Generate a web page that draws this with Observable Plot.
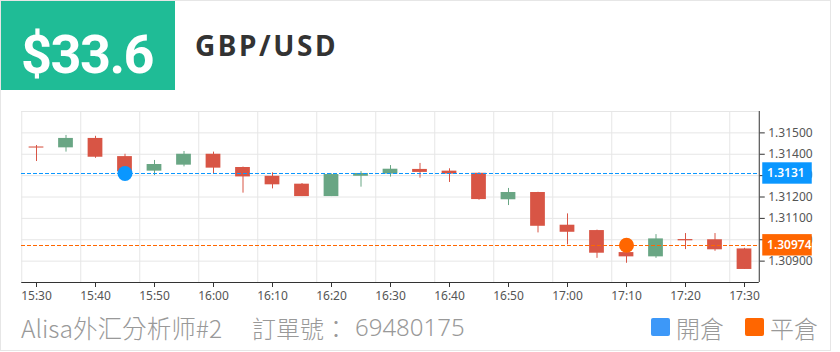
<!DOCTYPE html>
<html>
<head>
<meta charset="utf-8">
<script src="https://cdn.jsdelivr.net/npm/d3@7"></script>
<script src="https://cdn.jsdelivr.net/npm/@observablehq/plot@0.6"></script>
<style>
  html, body { margin: 0; padding: 0; background: #fff; }
  body { width: 840px; height: 352px; position: relative; overflow: hidden; font-family: "Noto Sans", sans-serif; }
  #card { position: absolute; left: 0; top: 0; width: 829px; height: 349px; border: 1px solid #e6e6e6; }
  #badge { position: absolute; left: 1px; top: 1px; width: 174px; height: 89px; background: #1fbc96; }
  #price { position: absolute; left: 21px; top: 19px; color: #fff; font-family: Roboto, "Noto Sans", sans-serif; font-weight: 700; font-size: 54px; letter-spacing: -1.5px; line-height: 72px; }
  #pair { position: absolute; left: 195px; top: 23px; color: #333; font-family: "Noto Sans", sans-serif; font-weight: 700; font-size: 28px; letter-spacing: 2.6px; line-height: 44px; }
  #chart { position: absolute; left: 0; top: 100px; }
  .foot { position: absolute; top: 313px; color: #999; font-family: "Noto Sans CJK TC", "Noto Sans", sans-serif; font-weight: 300; font-size: 24px; line-height: 30px; white-space: nowrap; }
  .sw { position: absolute; top: 318px; width: 19px; height: 18px; border-radius: 2px; }
</style>
</head>
<body>
<div id="card"></div>
<div id="badge"></div>
<div id="price"></div>
<div id="pair"></div>
<div id="chart"></div>
<div class="foot" id="f1" style="left:21px;font-size:24.6px;top:312px"></div>
<div class="foot" id="f2" style="left:252px"></div>
<div class="foot" id="f3" style="left:355px;font-family:'Noto Sans',sans-serif;top:312px"></div>
<div class="sw" style="left:651px;background:#3d98f8"></div>
<div class="foot" id="l1" style="left:676px"></div>
<div class="sw" style="left:745px;background:#ff6600"></div>
<div class="foot" id="l2" style="left:770px"></div>
<script>
// ---- data ----
const priceText = "$33.6";
const pairText = "GBP/USD";
const analystText = "Alisa外汇分析师#2";
const orderLabel = "訂單號：";
const orderNo = "69480175";
const legendLabels = ["開倉", "平倉"];

const times = ["15:30","15:35","15:40","15:45","15:50","15:55","16:00","16:05","16:10","16:15","16:20","16:25","16:30","16:35","16:40","16:45","16:50","16:55","17:00","17:05","17:10","17:15","17:20","17:25","17:30"];
const open  = [1.31434,1.31430,1.31474,1.31389,1.31321,1.31349,1.31400,1.31338,1.31297,1.31260,1.31202,1.31297,1.31307,1.31329,1.31321,1.31311,1.31187,1.31221,1.31068,1.31043,1.30940,1.30920,1.31001,1.31000,1.30957];
const close = [1.31429,1.31474,1.31386,1.31318,1.31352,1.31400,1.31335,1.31294,1.31257,1.31202,1.31305,1.31310,1.31330,1.31315,1.31307,1.31188,1.31221,1.31063,1.31035,1.30937,1.30920,1.31004,1.30995,1.30953,1.30861];
const high  = [1.31441,1.31488,1.31484,1.31400,1.31371,1.31413,1.31410,1.31340,1.31313,1.31263,1.31308,1.31319,1.31347,1.31357,1.31332,1.31313,1.31240,1.31222,1.31121,1.31045,1.30955,1.31024,1.31029,1.31029,1.30960];
const low   = [1.31366,1.31410,1.31381,1.31305,1.31300,1.31341,1.31307,1.31218,1.31238,1.31202,1.31202,1.31246,1.31293,1.31288,1.31268,1.31185,1.31160,1.31032,1.30976,1.30913,1.30890,1.30913,1.30954,1.30946,1.30861];

const yDomain = [1.308, 1.316];
const yGrid = [1.308,1.309,1.310,1.311,1.312,1.313,1.314,1.315,1.316];
const yTicks = [1.309,1.310,1.311,1.312,1.313,1.314,1.315];

const openTime = "15:45", openPrice = 1.3131;
const closeTime = "17:10", closePrice = 1.30974;

// ---- text ----
document.getElementById("price").textContent = priceText;
document.getElementById("pair").textContent = pairText;
document.getElementById("f1").textContent = analystText;
document.getElementById("f2").textContent = orderLabel;
document.getElementById("f3").textContent = orderNo;
document.getElementById("l1").textContent = legendLabels[0];
document.getElementById("l2").textContent = legendLabels[1];

// ---- chart ----
const UP = "#69a684", DOWN = "#d85545";
const BLUE = "#0a97ff", ORANGE = "#ff6600";
const candles = times.map((t, i) => ({i, t, open: open[i], close: close[i], high: high[i], low: low[i]}));
const col = d => d.close >= d.open ? UP : DOWN;
const idx = t => times.indexOf(t);
const tags = [
  {value: openPrice, label: String(openPrice), color: BLUE},
  {value: closePrice, label: String(closePrice), color: ORANGE}
];

const W = 840, H = 210, MR = 81.25;
const chart = Plot.plot({
  width: W, height: H,
  marginTop: 11, marginBottom: 28, marginLeft: 21.25, marginRight: MR,
  style: {fontFamily: "'Noto Sans', sans-serif", fontSize: "12px", color: "#555", background: "transparent", overflow: "visible"},
  x: {domain: [-0.5, times.length - 0.5], label: null},
  y: {domain: yDomain, label: null},
  marks: [
    Plot.ruleY(yGrid, {stroke: "#e6e6e6"}),
    Plot.ruleX(d3.range(0, times.length, 2), {x: i => i - 0.5, stroke: "#e6e6e6"}),
    Plot.ruleX(candles, {x: "i", y1: "low", y2: "high", stroke: col}),
    Plot.rect(candles, {x1: d => d.i - 0.25, x2: d => d.i + 0.25, y1: "open", y2: "close", fill: col}),
    Plot.ruleY([openPrice], {stroke: BLUE, strokeWidth: 1, strokeDasharray: "4,2", shapeRendering: "crispEdges"}),
    Plot.ruleY([closePrice], {stroke: ORANGE, strokeWidth: 1, strokeDasharray: "4,2", shapeRendering: "crispEdges"}),
    Plot.dot([{i: idx(openTime), v: openPrice}], {x: "i", y: "v", r: 7.5, fill: BLUE}),
    Plot.dot([{i: idx(closeTime), v: closePrice}], {x: "i", y: "v", r: 7.5, fill: ORANGE}),
    Plot.ruleY([yDomain[0]], {stroke: "#333"}),
    Plot.ruleX([times.length - 0.5], {stroke: "#333"}),
    Plot.axisX(d3.range(0, times.length, 2), {tickFormat: i => times[i], tickSize: 5, stroke: "#333", fill: "#555", label: null}),
    Plot.axisY(yTicks, {anchor: "right", tickFormat: d3.format(".5f"), tickSize: 5, stroke: "#333", fill: "#555", label: null})
  ]
});

// price tags on the right axis, placed with the chart's own y scale
const ys = chart.scale("y");
const x0 = W - MR + 3.5;
const svg = d3.select(chart);
for (const t of tags) {
  const y = ys.apply(t.value);
  const g = svg.append("g");
  g.append("rect").attr("x", x0).attr("y", y - 10.7).attr("width", 49.5).attr("height", 21.4).attr("fill", t.color);
  g.append("text").attr("x", x0 + 4.8).attr("y", y).attr("dy", "0.35em")
    .attr("text-anchor", "start").attr("fill", "#fff")
    .attr("font-size", 12).attr("font-weight", 600).text(t.label);
}
document.getElementById("chart").appendChild(chart);
</script>
</body>
</html>
